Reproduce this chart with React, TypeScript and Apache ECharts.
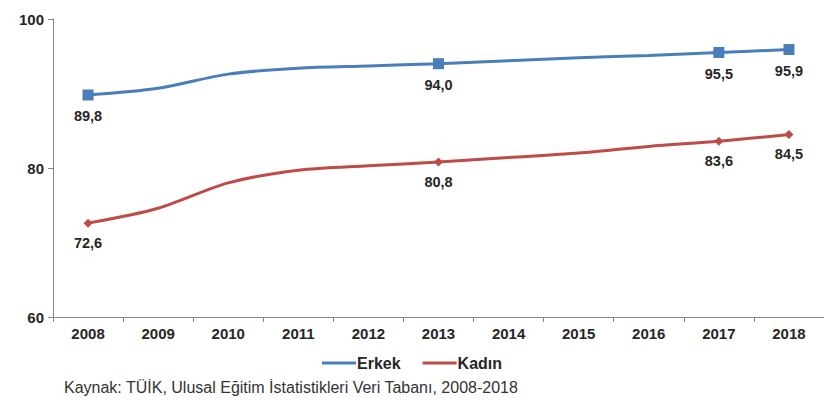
import React, { useEffect, useRef } from "react";
import * as echarts from "echarts";

const years = ["2008", "2009", "2010", "2011", "2012", "2013", "2014", "2015", "2016", "2017", "2018"];
const erkek = [89.8, 90.7, 92.6, 93.4, 93.7, 94.0, 94.4, 94.8, 95.1, 95.5, 95.9];
const kadin = [72.6, 74.6, 78.0, 79.7, 80.3, 80.8, 81.4, 82.0, 82.9, 83.6, 84.5];
const labeledYears = ["2008", "2013", "2017", "2018"];
const yTicks = [60, 80, 100];
const sourceText = "Kaynak: TÜİK, Ulusal Eğitim İstatistikleri Veri Tabanı, 2008-2018";

const FONT = "Liberation Sans, Arial, sans-serif";

function buildData(values: number[], symbol: string, size: number) {
  return values.map((v, i) => {
    const shown = labeledYears.includes(years[i]);
    return {
      value: v,
      symbol: shown ? symbol : "none",
      symbolSize: shown ? size : 0,
      label: { show: shown },
    };
  });
}

export default function App() {
  const ref = useRef<HTMLDivElement>(null);
  useEffect(() => {
    if (!ref.current) return;
    const chart = echarts.init(ref.current, undefined, { renderer: "svg" });
    const labelStyle = {
      position: "bottom" as const,
      distance: 8,
      fontFamily: FONT,
      fontSize: 14.5,
      fontWeight: "bold" as const,
      color: "#262626",
      formatter: (p: any) => Number(p.value).toFixed(1).replace(".", ","),
    };
    chart.setOption({
      animation: false,
      backgroundColor: "#ffffff",
      grid: { left: 53, top: 19, width: 778, height: 298, containLabel: false },
      xAxis: {
        type: "category",
        data: years,
        boundaryGap: true,
        axisLine: { lineStyle: { color: "#868686", width: 1 } },
        axisTick: { show: true, length: 5, lineStyle: { color: "#868686" } },
        axisLabel: { fontFamily: FONT, fontSize: 15, fontWeight: "bold", color: "#262626", margin: 9 },
        splitLine: { show: false },
      },
      yAxis: {
        type: "value",
        min: yTicks[0],
        max: yTicks[yTicks.length - 1],
        interval: 20,
        axisLine: { show: true, lineStyle: { color: "#868686", width: 1 } },
        axisTick: { show: true, length: 5, lineStyle: { color: "#868686" } },
        axisLabel: { fontFamily: FONT, fontSize: 15, fontWeight: "bold", color: "#262626", margin: 9 },
        splitLine: { show: false },
      },
      legend: {
        bottom: 29,
        left: "center",
        icon: "rect",
        itemWidth: 34,
        itemHeight: 3,
        itemGap: 22,
        textStyle: { fontFamily: FONT, fontSize: 16, fontWeight: "bold", color: "#262626", padding: [0, 0, 0, -4] },
        data: ["Erkek", "Kadın"],
      },
      graphic: [
        {
          type: "text",
          left: 64,
          top: 379,
          style: { text: sourceText, fontFamily: FONT, fontSize: 16, fill: "#333333" },
        },
      ],
      series: [
        {
          name: "Erkek",
          type: "line",
          smooth: 0.3,
          symbol: "none",
          color: "#4a7ebb",
          lineStyle: { width: 3, color: "#4a7ebb" },
          itemStyle: { color: "#4a7ebb" },
          label: labelStyle,
          data: buildData(erkek, "rect", 11),
        },
        {
          name: "Kadın",
          type: "line",
          smooth: 0.3,
          symbol: "none",
          color: "#be4b48",
          lineStyle: { width: 3, color: "#be4b48" },
          itemStyle: { color: "#be4b48" },
          label: labelStyle,
          data: buildData(kadin, "diamond", 9),
        },
      ],
    });
    return () => chart.dispose();
  }, []);
  return <div ref={ref} style={{ width: 824, height: 405, position: "absolute", left: 0, top: 0 }} />;
}
